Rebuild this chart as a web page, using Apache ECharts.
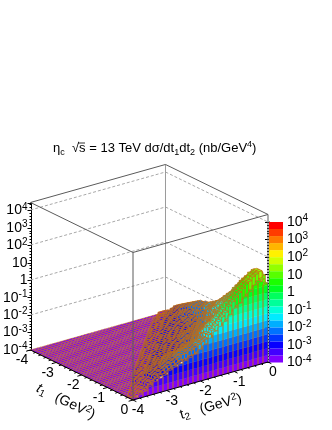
<!DOCTYPE html>
<html><head><meta charset="utf-8">
<style>html,body{margin:0;padding:0;background:#fff}#c{width:332px;height:430px}</style>
<script src="https://cdn.jsdelivr.net/npm/echarts@6/dist/echarts.min.js"></script>
</head><body><div id="c"></div>
<script>
// log10(sigma / 1e-4) x 10, read per bin. Rows: t1 bins from 0 to -4; columns: t2 bins from 0 to -4; missing bins are at the floor.
const surfaceRows = [
[45,48,47,45,43,41,39,37,36,34,32,30,28,26,25,23,20,19,18,17,16,15,15,14,14,14,13,12,11,10,9,9,8,6,5,3,3,2,2,1],
[49,52,51,50,48,47,45,43,41,39,37,34,32,30,28,26,24,22,21,20,19,18,18,17,17,16,15,14,13,12,11,10,9,7,6,4,3,2,2,1],
[50,52,51,50,48,47,45,43,41,39,38,35,33,31,29,27,24,22,21,20,19,18,18,17,17,16,15,14,13,12,11,10,9,7,6,4,3,2,2],
[50,51,50,46,44,43,42,40,39,37,36,33,31,29,28,26,23,21,20,19,18,17,17,16,16,15,14,13,12,11,10,10,9,7,6,4,3,2],
[49,48,47,44,42,41,39,38,36,34,33,31,29,27,26,24,21,19,18,18,17,16,16,15,15,14,13,12,11,11,10,9,8,6,5,4,3],
[47,46,45,43,41,38,36,35,33,31,30,28,26,25,23,22,19,18,17,16,15,14,14,14,14,13,12,11,10,10,9,8,7,6,5,3],
[45,44,43,41,39,36,33,31,30,28,27,25,24,22,21,19,17,16,15,14,14,13,13,12,12,12,11,10,9,9,8,7,6,5,4],
[44,42,41,39,37,35,31,29,28,26,25,23,21,20,19,18,16,14,14,13,12,12,12,11,11,10,10,9,8,8,7,7,6,5],
[42,40,39,37,35,33,30,28,26,24,23,21,20,19,17,16,14,13,13,12,11,11,11,10,10,10,9,8,8,7,7,6,5],
[40,38,37,35,33,31,28,26,24,22,21,19,18,17,16,15,13,12,11,11,10,10,10,9,9,9,8,8,7,6,6,5],
[36,35,34,33,31,30,27,25,23,21,19,18,17,16,15,14,12,11,11,10,10,9,9,9,9,8,8,7,7,6,6],
[34,33,32,31,29,28,25,23,21,19,18,17,16,15,14,13,12,11,10,10,9,9,9,8,8,8,7,7,6,6],
[32,31,30,29,27,26,24,21,20,18,17,16,15,14,13,12,11,10,10,9,9,8,8,8,8,7,7,6,6],
[30,29,28,27,25,25,22,20,19,17,16,15,14,14,13,12,11,10,9,9,8,8,8,7,7,7,7,6],
[29,28,27,26,24,23,21,19,17,16,15,14,13,13,12,11,10,9,9,8,8,8,8,7,7,7,6],
[27,26,25,24,23,22,19,18,16,15,14,13,12,12,11,11,10,9,8,8,8,7,7,7,7,6],
[25,24,23,22,20,19,17,16,14,13,12,12,11,11,10,10,9,9,8,8,7,7,7,7,6],
[23,23,22,21,19,18,16,14,13,12,11,11,10,10,9,9,9,8,8,7,7,7,7,6],
[22,22,21,20,18,17,15,14,13,11,11,10,10,9,9,8,8,8,8,7,7,6,6],
[19,21,21,20,18,16,14,13,12,11,10,10,9,9,8,8,8,7,7,7,7,6],
[18,20,20,19,17,15,14,12,11,10,10,9,9,8,8,8,7,7,7,7,6],
[17,19,19,18,16,14,13,12,11,10,9,9,8,8,8,7,7,7,6,6],
[17,19,19,18,16,14,13,12,11,10,9,9,8,8,8,7,7,6,6],
[16,18,18,17,15,14,12,11,10,9,9,8,8,7,7,7,7,6],
[16,18,18,17,15,14,12,11,10,9,9,8,8,7,7,7,6],
[15,17,17,16,14,13,12,10,10,9,8,8,7,7,7,6],
[14,16,16,15,13,12,11,10,9,8,8,7,7,7,6],
[13,15,15,14,12,11,10,9,8,8,7,7,6,6],
[12,14,14,13,11,10,9,8,8,7,7,6,6],
[11,13,13,12,11,10,9,8,7,6,6,6],
[10,12,12,11,10,9,8,7,7,6,6],
[9,11,11,10,9,8,7,7,6,5],
[8,10,10,9,8,7,6,6,5],
[6,8,8,7,6,6,5,5],
[5,6,6,6,5,5,4],
[3,4,4,4,4,3],
[3,3,3,3,3],
[2,2,2,2],
[2,2,2],
[1,1]
];
// Height of the t1 = 0 side wall, t2 from -4 to 0 (same units)
const frontWall = [1,2,3,5,7,8,9,11,12,13,14,15,16,18,20,23,26,28,30,33,36,38,41,43,46,47,45];
const palette = ['#8000ff','#4300ff','#0700ff','#0036ff','#0072ff','#00aeff','#00ebff','#00ffd7','#00ff9a','#00ff5e','#00ff21','#1bff00','#57ff00','#93ff00','#d0ff00','#fff100','#ffb500','#ff7900','#ff3c00','#ff0000'];
const zTicks = [-4,-3,-2,-1,0,1,2,3,4];
const zGrid = [-2,0,2,4];
const tTicks = [-4,-3,-2,-1,0];
const tMinor = [-3.8,-3.6,-3.4,-3.2,-2.8,-2.6,-2.4,-2.2,-1.8,-1.6,-1.4,-1.2,-0.8,-0.6,-0.4,-0.2];
const Z_TOP = 4.43, N = 40, ORANGE = '#c26e12', FONT = '"Liberation Sans"';

// oblique view of the lego box, as fractions of the plotting grid
function view(t1, t2, lz) {
  const p = (t1 + 4) / 4, q = (t2 + 4) / 4;
  return [0.4316 * p + 0.5684 * q, 0.2119 * (1 - p) + 0.161 * q + 0.07415 * (lz + 4)];
}
const rowH = (i, j) => (i < 0 || j >= N || j < 0 || i >= N) ? 0 : (surfaceRows[i][j] || 0);
const band = v => Math.min(19, Math.floor(v / 4));
const lz = v => -4 + v / 10;

const cells = [];
for (let i = N - 1; i >= 0; i--) for (let j = 0; j < N; j++) cells.push([i, j, rowH(i, j)]);

function renderCell(params, api) {
  const i = api.value(0), j = api.value(1), v = api.value(2);
  const a = -(i + 1) * 0.1, b = -i * 0.1, c = -(j + 1) * 0.1, d = -j * 0.1;
  const P = (x, y, w) => api.coord(view(x, y, lz(w)));
  const fill = palette[band(v)];
  const kids = [];
  const st = { fill, stroke: ORANGE, lineWidth: v === 0 ? 0.5 : (v < 26 ? 0.85 : 0.65) };
  const n1 = rowH(i - 1, j), n2 = rowH(i, j + 1);
  if (i > 0 && v > n1) kids.push({ type: 'polygon', shape: { points: [P(b, c, v), P(b, d, v), P(b, d, n1), P(b, c, n1)] }, style: st });
  if (v > n2) kids.push({ type: 'polygon', shape: { points: [P(a, c, v), P(b, c, v), P(b, c, n2), P(a, c, n2)] }, style: st });
  kids.push({ type: 'polygon', shape: { points: [P(a, c, v), P(b, c, v), P(b, d, v), P(a, d, v)] }, style: st });
  return { type: 'group', children: kids };
}

function renderWall(params, api) {
  const k = api.value(0), v = api.value(1), w = 4 / frontWall.length;
  const c = -4 + k * w, d = c + w;
  const P = (y, h) => api.coord(view(0, y, lz(h)));
  const kids = [];
  for (let b = 0; b * 4 < v; b++) {
    const lo = b * 4, hi = Math.min(v, lo + 4);
    kids.push({ type: 'polygon', shape: { points: [P(c, hi), P(d, hi), P(d, lo), P(c, lo)] },
      style: { fill: palette[b], stroke: palette[b], lineWidth: 0.4 } });
  }
  const s0 = P(c, v), s1 = P(c, 0), s2 = P(d, v);
  kids.push({ type: 'line', shape: { x1: s0[0], y1: s0[1], x2: s1[0], y2: s1[1] }, style: { stroke: ORANGE, lineWidth: 1 } });
  kids.push({ type: 'line', shape: { x1: s0[0], y1: s0[1], x2: s2[0], y2: s2[1] }, style: { stroke: ORANGE, lineWidth: 0.6 } });
  return { type: 'group', children: kids };
}

const corner = {
  L: [-4, -4], F: [0, -4], R: [0, 0], B: [-4, 0]
};
const seg = (c1, z1, c2, z2, kind) => [corner[c1][0], corner[c1][1], z1, corner[c2][0], corner[c2][1], z2, kind];
const backLines = [];
zGrid.forEach(z => { backLines.push(seg('L', z, 'B', z, 1)); backLines.push(seg('B', z, 'R', z, 1)); });
backLines.push(seg('B', -4, 'B', Z_TOP, 2));
backLines.push(seg('L', Z_TOP, 'B', Z_TOP, 0));
backLines.push(seg('B', Z_TOP, 'R', Z_TOP, 0));
const frontLines = [
  seg('L', Z_TOP, 'F', Z_TOP, 0), seg('F', Z_TOP, 'R', Z_TOP, 0),
  seg('F', -4, 'F', Z_TOP, 0), seg('R', -4, 'R', Z_TOP, 0),
  seg('L', -4, 'F', -4, 3), seg('F', -4, 'R', -4, 3)
];
const lineStyles = [
  { stroke: '#5a5a5a', lineWidth: 1 },
  { stroke: '#a8a8a8', lineWidth: 1, lineDash: [3, 2] },
  { stroke: '#9a9a9a', lineWidth: 1 },
  { stroke: '#000', lineWidth: 1 }
];
function renderSeg(params, api) {
  const a = api.coord(view(api.value(0), api.value(1), api.value(2)));
  const b = api.coord(view(api.value(3), api.value(4), api.value(5)));
  return { type: 'line', shape: { x1: a[0], y1: a[1], x2: b[0], y2: b[1] }, style: lineStyles[api.value(6)] };
}
const tickData = [];
tTicks.forEach(t => { tickData.push([t, 0, 0.13]); tickData.push([t, 1, 0.13]); });
tMinor.forEach(t => { tickData.push([t, 0, 0.07]); tickData.push([t, 1, 0.07]); });
function renderTick(params, api) {
  const t = api.value(0), ax = api.value(1), len = api.value(2);
  const a = ax === 0 ? view(t, -4, -4) : view(0, t, -4);
  const b = ax === 0 ? view(t, -4 - len, -4) : view(len, t, -4);
  const A = api.coord(a), B = api.coord(b);
  return { type: 'line', shape: { x1: A[0], y1: A[1], x2: B[0], y2: B[1] }, style: { stroke: '#000', lineWidth: 1 } };
}
const labelData = [];
tTicks.forEach(t => { labelData.push([t, 0]); labelData.push([t, 1]); });
function renderLabel(params, api) {
  const t = api.value(0), ax = api.value(1);
  const A = api.coord(ax === 0 ? view(t, -4, -4) : view(0, t, -4));
  return { type: 'text', x: A[0] + (ax === 0 ? -8.5 : 5), y: A[1] + 10.5,
    style: { text: String(t), font: '14px ' + FONT, fill: '#000', align: 'center', verticalAlign: 'middle' } };
}

const supRich = {
  b: { fontFamily: FONT, fontSize: 14, fontWeight: 'normal', color: '#000', lineHeight: 17 },
  s: { fontFamily: FONT, fontSize: 10, fontWeight: 'normal', color: '#000', verticalAlign: 'top', lineHeight: 10 },
  u: { fontFamily: FONT, fontSize: 10, fontWeight: 'normal', color: '#000', verticalAlign: 'bottom', lineHeight: 10 }
};
const titleRich = {
  b: { fontFamily: FONT, fontSize: 13, fontWeight: 'normal', color: '#000', lineHeight: 17 },
  s: { fontFamily: FONT, fontSize: 9, fontWeight: 'normal', color: '#000', verticalAlign: 'top', lineHeight: 9 },
  u: { fontFamily: FONT, fontSize: 9, fontWeight: 'normal', color: '#000', verticalAlign: 'bottom', lineHeight: 9 }
};
const tenLabel = v => v === 0 ? '{b|1}' : v === 1 ? '{b|10}' : '{b|10}{s|' + (v < 0 ? '-' + (-v) : v) + '}';
const textCommon = { fontFamily: FONT, rich: supRich };

const option = {
  animation: false,
  title: { text: '{b|η}{u|c}{b|  √s = 13 TeV dσ/dt}{u|1}{b|dt}{u|2}{b| (nb/GeV}{s|4}{b|)}', left: 53, top: 140, padding: 0,
    textStyle: { rich: titleRich, fontFamily: FONT, fontWeight: 'normal' } },
  grid: [
    { left: 30.5, top: 164, width: 237.5, height: 236 },
    { left: 269, top: 222, width: 14, height: 140.5 },
    { left: 30.5, top: 203, width: 1, height: 147 }
  ],
  xAxis: [
    { gridIndex: 0, type: 'value', min: 0, max: 1, show: false },
    { gridIndex: 1, type: 'value', min: 0, max: 1, show: false },
    { gridIndex: 2, type: 'value', min: 0, max: 1, show: false }
  ],
  yAxis: [
    { gridIndex: 0, type: 'value', min: 0, max: 1, show: false },
    { gridIndex: 1, type: 'value', min: -4, max: 4, interval: 1, position: 'right',
      axisLine: { show: true, lineStyle: { color: '#000' } },
      axisTick: { show: true, inside: true, length: 4, lineStyle: { color: '#000' } },
      minorTick: { show: true, splitNumber: 6, length: 2, lineStyle: { color: '#000' } },
      splitLine: { show: false }, minorSplitLine: { show: false },
      axisLabel: { margin: 4, align: 'left', formatter: v => tenLabel(v), ...textCommon } },
    { gridIndex: 2, type: 'value', min: -4, max: Z_TOP, interval: 1, position: 'left',
      axisLine: { show: true, lineStyle: { color: '#000' } },
      axisTick: { show: true, length: 4, lineStyle: { color: '#000' } },
      minorTick: { show: true, splitNumber: 6, length: 2, lineStyle: { color: '#000' } },
      splitLine: { show: false }, minorSplitLine: { show: false },
      axisLabel: { margin: 4, align: 'right', showMaxLabel: false, formatter: v => zTicks.includes(v) ? tenLabel(v) : '', ...textCommon } }
  ],
  graphic: [
    { type: 'line', shape: { x1: 78, y1: 143, x2: 85, y2: 143 }, style: { stroke: '#000', lineWidth: 0.8 }, silent: true },
    { type: 'text', x: 41, y: 380, rotation: -0.46, silent: true,
      style: { text: '{i|t}{u|1} {b|  (GeV}{s|2}{b|)}', rich: { ...supRich, i: { fontFamily: FONT, fontSize: 14, fontStyle: 'italic', color: '#000', lineHeight: 17 } } } },
    { type: 'text', x: 178, y: 407, rotation: 0.27, silent: true,
      style: { text: '{b|t}{u|2} {b|  (GeV}{s|2}{b|)}', rich: supRich } }
  ],
  series: [
    { type: 'custom', xAxisIndex: 0, yAxisIndex: 0, clip: false, silent: true, progressive: 0, data: backLines, renderItem: renderSeg, z: 1 },
    { type: 'custom', xAxisIndex: 0, yAxisIndex: 0, clip: false, silent: true, progressive: 0, data: cells, renderItem: renderCell, z: 2 },
    { type: 'custom', xAxisIndex: 0, yAxisIndex: 0, clip: false, silent: true, progressive: 0, data: frontWall.map((v, k) => [k, v]), renderItem: renderWall, z: 3 },
    { type: 'custom', xAxisIndex: 0, yAxisIndex: 0, clip: false, silent: true, progressive: 0, data: frontLines, renderItem: renderSeg, z: 4 },
    { type: 'custom', xAxisIndex: 0, yAxisIndex: 0, clip: false, silent: true, data: tickData, renderItem: renderTick, z: 4 },
    { type: 'custom', xAxisIndex: 0, yAxisIndex: 0, clip: false, silent: true, data: labelData, renderItem: renderLabel, z: 5 },
    { type: 'custom', xAxisIndex: 1, yAxisIndex: 1, silent: true, data: palette.map((c, i) => [i]),
      renderItem: (params, api) => {
        const i = api.value(0);
        const a = api.coord([0, -4 + (i + 1) * 0.4]), b = api.coord([1, -4 + i * 0.4]);
        return { type: 'rect', shape: { x: a[0], y: a[1], width: b[0] - a[0], height: b[1] - a[1] }, style: { fill: palette[i] } };
      }, z: 1 }
  ]
};
const chart = echarts.init(document.getElementById('c'), null, { renderer: 'canvas' });
chart.setOption(option);
</script></body></html>
